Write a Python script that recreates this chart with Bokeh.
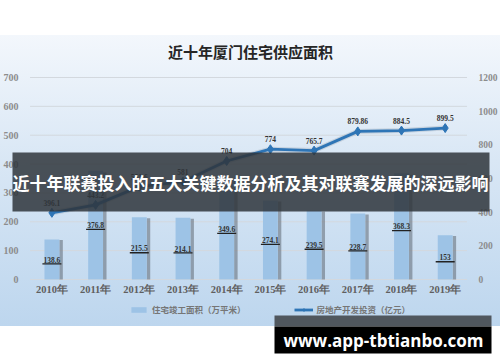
from bokeh.plotting import figure
from bokeh.models import (Range1d, LinearAxis, FixedTicker, Label, BoxAnnotation,
                          Legend, LegendItem, ColumnDataSource)
from bokeh.embed import file_html
from bokeh.resources import INLINE

# ---------------- data ----------------
years = ["2010年", "2011年", "2012年", "2013年", "2014年",
         "2015年", "2016年", "2017年", "2018年", "2019年"]
completed_area = [138.6, 376.8, 215.5, 214.1, 349.6, 274.1, 239.5, 228.7, 368.3, 153]
completed_labels = ["138.6", "376.8", "215.5", "214.1", "349.6",
                    "274.1", "239.5", "228.7", "368.3", "153"]
investment = [396.1, 443.2, 551.6, 581.0, 704, 774, 765.7, 879.86, 884.5, 899.5]
investment_labels = ["396.1", "443.2", "551.6", "581", "704",
                     "774", "765.7", "879.86", "884.5", "899.5"]
left_ticks = [0, 100, 200, 300, 400, 500, 600, 700]
right_ticks = [0, 200, 400, 600, 800, 1000, 1200]
title_text = "近十年厦门住宅供应面积"
bar_legend = "住宅竣工面积（万平米）"
line_legend = "房地产开发投资（亿元）"
banner_text = "近十年联赛投入的五大关键数据分析及其对联赛发展的深远影响"
watermark_text = "www.app-tbtianbo.com"

# ---------------- layout (pixel targets inside a full-canvas frame) ----------------
W, H = 500, 362
PL, PR = 25, 470          # plot area left / right (px)
PT, PB = 77, 279          # plot area top / bottom (px)
n = len(years)
xs = list(range(n))
ppx = (PR - PL) / n
x_start = -0.5 - PL / ppx
x_end = (n - 0.5) + (W - PR) / ppx
L_MAX, R_MAX = left_ticks[-1], right_ticks[-1]
ppl = (PB - PT) / L_MAX
ppr = (PB - PT) / R_MAX
yl_start, yl_end = -(H - PB) / ppl, L_MAX + PT / ppl
yr_start, yr_end = -(H - PB) / ppr, R_MAX + PT / ppr

p = figure(width=W, height=H, output_backend="svg", toolbar_location=None,
           x_range=Range1d(x_start, x_end), y_range=Range1d(yl_start, yl_end),
           min_border=0)
p.extra_y_ranges = {"right": Range1d(yr_start, yr_end)}
p.background_fill_color = None
p.border_fill_color = None
p.outline_line_color = None
p.styles = {"background": "linear-gradient(to bottom, #ffffff 0px, #ffffff 35px, "
                          "#f3f7fc 35px, #d9e7f5 160px, #bdd6ee 326px, "
                          "#ffffff 326px, #ffffff 362px)"}

# axes (labels drawn inward so the frame spans the whole canvas)
p.xaxis.ticker = FixedTicker(ticks=xs)
p.xaxis.major_label_overrides = {i: years[i] for i in xs}
p.xaxis.axis_line_color = None
p.xaxis.major_tick_line_color = None
p.xaxis.minor_tick_line_color = None
p.xaxis.major_label_text_font = "Liberation Serif"
p.xaxis.major_label_text_font_style = "bold"
p.xaxis.major_label_text_font_size = "10.5px"
p.xaxis.major_label_text_color = "#5f5f5f"
p.xaxis.major_label_standoff = -85

p.yaxis.ticker = FixedTicker(ticks=left_ticks)
p.yaxis.axis_line_color = None
p.yaxis.major_tick_line_color = None
p.yaxis.minor_tick_line_color = None
p.yaxis.major_label_text_font = "Liberation Serif"
p.yaxis.major_label_text_font_style = "bold"
p.yaxis.major_label_text_font_size = "10px"
p.yaxis.major_label_text_color = "#8c8c8c"
p.yaxis.major_label_standoff = -19

ry = LinearAxis(y_range_name="right", ticker=FixedTicker(ticks=right_ticks))
ry.axis_line_color = None
ry.major_tick_line_color = None
ry.minor_tick_line_color = None
ry.major_label_text_font = "Liberation Serif"
ry.major_label_text_font_style = "bold"
ry.major_label_text_font_size = "9.5px"
ry.major_label_text_color = "#8c8c8c"
ry.major_label_standoff = -24
p.add_layout(ry, "right")

p.xgrid.grid_line_color = None
p.ygrid.grid_line_color = None
# horizontal grid lines at the left-axis ticks, spanning the category area
p.segment(x0=[xs[0] - 0.5] * len(left_ticks), x1=[xs[-1] + 0.5] * len(left_ticks),
          y0=left_ticks, y1=left_ticks, line_color="#d3d8de", line_width=1)

# bars
src = ColumnDataSource(dict(x=xs, top=completed_area, lab=completed_labels,
                            mid=[v / 2 for v in completed_area],
                            sx=[x + 0.21 for x in xs],
                            stop=[v * 0.985 for v in completed_area],
                            uy=[v / 2 - 15 for v in completed_area]))
p.vbar(x="sx", top="stop", width=0.08, source=src, fill_color="#5e6873",
       fill_alpha=0.55, line_color=None)
bars = p.vbar(x="x", top="top", width=0.34, source=src, fill_color="#9dc3e6",
              line_color=None)
p.text(x="x", y="mid", text="lab", source=src, text_align="center",
       text_baseline="middle", text_font_size="7.5px", text_font_style="bold",
       text_color="#333333", text_font={"value": "Liberation Serif"})
p.scatter(x="x", y="uy", source=src, marker="dash", size=19, line_color="#222222",
          line_width=1.3)

# line (with a faint drop shadow)
lsrc = ColumnDataSource(dict(x=xs, y=investment, lab=investment_labels))
p.line(x="x", y="y", source=lsrc, y_range_name="right", line_width=5,
       line_color="#1a2a3a", line_alpha=0.12)
ln = p.line(x="x", y="y", source=lsrc, y_range_name="right", line_width=2.8,
            line_color="#2e75b6")
mk = p.scatter(x="x", y="y", source=lsrc, y_range_name="right", marker="diamond",
               size=9, fill_color="#2e75b6", line_color="#2e75b6")
p.text(x="x", y="y", text="lab", source=lsrc, y_range_name="right",
       text_align="center", text_baseline="bottom", y_offset=-7,
       text_font_size="7.5px", text_font_style="bold", text_color="#333333",
       text_font={"value": "Liberation Serif"})

# legend
leg = Legend(items=[LegendItem(label=bar_legend, renderers=[bars]),
                    LegendItem(label=line_legend, renderers=[ln, mk])],
             orientation="horizontal", location=(124, 47),
             background_fill_alpha=0, border_line_alpha=0,
             label_text_font_size="8.5px", label_text_color="#767676",
             label_text_font_style="bold", label_text_font="Noto Sans CJK SC",
             glyph_width=19, glyph_height=7, spacing=48, padding=0, margin=0,
             label_standoff=4, label_height=10)
p.add_layout(leg, "center")


def canvas_box(l, r, t, b, color, alpha):
    return BoxAnnotation(left=l, right=r, top=t, bottom=b,
                         left_units="canvas", right_units="canvas",
                         top_units="canvas", bottom_units="canvas",
                         fill_color=color, fill_alpha=alpha, line_color=None,
                         level="overlay")


# title
p.add_layout(Label(x=250, y=51, x_units="canvas", y_units="canvas", text=title_text,
                   text_align="center", text_baseline="middle",
                   text_font="Noto Sans CJK SC", text_font_style="bold",
                   text_font_size="15px", text_color="#262626"))

# banner overlay
p.add_layout(canvas_box(12, 489, 152, 211, "#2f353b", 0.85))
p.add_layout(Label(x=250, y=182, x_units="canvas", y_units="canvas", text=banner_text,
                   text_align="center", text_baseline="middle",
                   text_font="Noto Sans CJK SC", text_font_style="bold",
                   text_font_size="17px", text_color="white", level="overlay"))

# watermark
p.add_layout(canvas_box(274, 491, 315, 326, "#50575e", 1))
p.add_layout(canvas_box(274, 491, 326, 353, "#000000", 1))
p.add_layout(Label(x=383, y=340, x_units="canvas", y_units="canvas", text=watermark_text,
                   text_align="center", text_baseline="middle",
                   text_font="Open Sans", text_font_style="bold",
                   text_font_size="17px", text_color="white", level="overlay"))

open("out.html", "w").write(file_html(p, INLINE))
